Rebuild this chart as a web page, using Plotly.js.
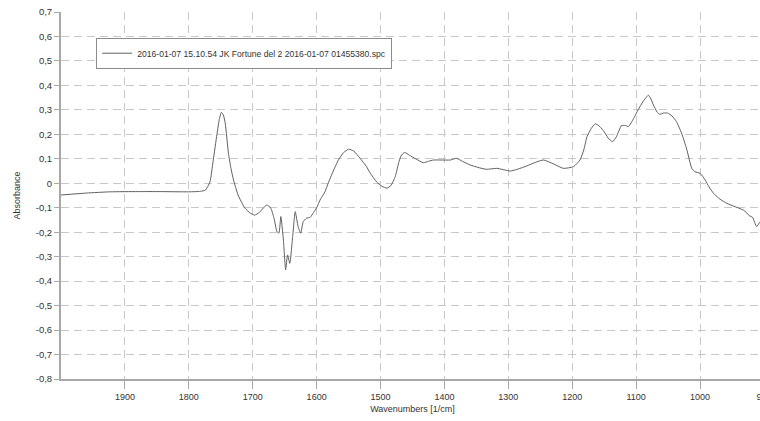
<!DOCTYPE html>
<html>
<head>
<meta charset="utf-8">
<script src="https://cdn.plot.ly/plotly-3.0.1.min.js"></script>
<style>
html,body{margin:0;padding:0;overflow:hidden;background:#fff;}
#chart{width:766px;height:421px;}
</style>
</head>
<body>
<div id="chart"></div>
<script>
const seriesName = "2016-01-07 15.10.54 JK Fortune del 2 2016-01-07 01455380.spc";

const wavenumbers = [
  2000, 1960, 1923, 1880, 1845, 1800, 1782, 1774, 1767, 1762, 1756, 1752, 1749, 1746, 1743, 1738, 1734, 1730,
  1723, 1716, 1712, 1704, 1697, 1690, 1683, 1678, 1672, 1667, 1662, 1659, 1656, 1652, 1648.5, 1645.5, 1642,
  1637.5, 1633.5, 1629, 1625, 1621, 1616, 1610, 1605, 1600, 1594, 1587, 1582, 1574, 1566, 1558, 1550, 1542,
  1532, 1522, 1516, 1506, 1498, 1490, 1484, 1477, 1471, 1467, 1462, 1455, 1445, 1433, 1425, 1417, 1405, 1391,
  1381, 1372, 1360, 1345, 1334, 1318, 1297, 1285, 1271, 1258, 1245, 1230, 1214, 1198, 1188, 1182, 1177, 1170,
  1164, 1157, 1150, 1144, 1137, 1131, 1123, 1117, 1112, 1104, 1097, 1089, 1081, 1077, 1073, 1067, 1063, 1057,
  1051, 1044, 1037, 1029, 1021, 1013, 1008, 1000, 992, 986, 979, 969, 958, 948, 932, 922, 918, 911.5, 906, 901
];

const absorbance = [
  -0.048, -0.040, -0.035, -0.034, -0.034, -0.035, -0.033, -0.028, 0.005, 0.09, 0.2, 0.265, 0.29, 0.28, 0.245, 0.123, 0.06, 0.013,
  -0.048, -0.085, -0.102, -0.122, -0.13, -0.12, -0.1, -0.089, -0.1, -0.14, -0.198, -0.204, -0.136, -0.232, -0.354, -0.293, -0.327,
  -0.218, -0.116, -0.177, -0.204, -0.157, -0.143, -0.139, -0.12, -0.1, -0.065, -0.035, 0, 0.05, 0.095, 0.125, 0.139, 0.132,
  0.102, 0.068, 0.041, 0.005, -0.012, -0.02, -0.01, 0.027, 0.09, 0.116, 0.126, 0.115, 0.1, 0.084, 0.09, 0.095, 0.095, 0.095,
  0.102, 0.09, 0.075, 0.063, 0.057, 0.061, 0.05, 0.058, 0.071, 0.085, 0.095, 0.08, 0.061, 0.068, 0.095, 0.136, 0.19, 0.225,
  0.243, 0.232, 0.21, 0.185, 0.17, 0.19, 0.236, 0.236, 0.232, 0.265, 0.3, 0.335, 0.36, 0.345, 0.32, 0.29, 0.282, 0.287,
  0.287, 0.275, 0.252, 0.205, 0.14, 0.061, 0.047, 0.041, 0.013, -0.015, -0.041, -0.065, -0.082, -0.093, -0.11, -0.134, -0.139, -0.177, -0.157, -0.15
];

const xTickVals = [1900, 1800, 1700, 1600, 1500, 1400, 1300, 1200, 1100, 1000, 900];
const xTickText = ["1900", "1800", "1700", "1600", "1500", "1400", "1300", "1200", "1100", "1000", "900"];
const yTickVals = [0.7, 0.6, 0.5, 0.4, 0.3, 0.2, 0.1, 0, -0.1, -0.2, -0.3, -0.4, -0.5, -0.6, -0.7, -0.8];
const yTickText = ["0,7", "0,6", "0,5", "0,4", "0,3", "0,2", "0,1", "0", "-0,1", "-0,2", "-0,3", "-0,4", "-0,5", "-0,6", "-0,7", "-0,8"];

const fontFam = "Liberation Sans, Arial, sans-serif";

const trace = {
  x: wavenumbers,
  y: absorbance,
  type: "scatter",
  mode: "lines",
  name: seriesName,
  line: {color: "#606060", width: 1, shape: "spline", smoothing: 0.5},
  hoverinfo: "skip"
};

const layout = {
  width: 766,
  height: 421,
  margin: {l: 61, r: 2, t: 12, b: 42},
  paper_bgcolor: "#ffffff",
  plot_bgcolor: "#ffffff",
  font: {family: fontFam, size: 9, color: "#333333"},
  showlegend: true,
  legend: {
    x: 0.05, y: 0.93, xanchor: "left", yanchor: "top",
    bgcolor: "#ffffff", bordercolor: "#8c8c8c", borderwidth: 1,
    font: {family: fontFam, size: 8.6, color: "#333333"},
    itemwidth: 30
  },
  xaxis: {
    range: [2000, 900],
    tickvals: xTickVals,
    ticktext: xTickText,
    ticklabeloverflow: "allow",
    showline: true, linecolor: "#a8a8a8", linewidth: 2,
    ticks: "outside", ticklen: 8, tickcolor: "#a8a8a8", tickwidth: 1,
    showgrid: true, gridcolor: "#c8c8c8", gridwidth: 1, griddash: "8px,5px",
    zeroline: false,
    tickfont: {family: fontFam, size: 9, color: "#333333"},
    title: {text: "Wavenumbers [1/cm]", font: {family: fontFam, size: 9, color: "#333333"}, standoff: 5},
    automargin: false,
    fixedrange: true
  },
  yaxis: {
    range: [-0.8, 0.7],
    tickvals: yTickVals,
    ticktext: yTickText,
    showline: true, linecolor: "#a8a8a8", linewidth: 2,
    ticks: "outside", ticklen: 5, tickcolor: "#a8a8a8", tickwidth: 1,
    showgrid: true, gridcolor: "#c8c8c8", gridwidth: 1, griddash: "8px,5px",
    zeroline: false,
    tickfont: {family: fontFam, size: 9.5, color: "#333333"},
    title: {text: "Absorbance", font: {family: fontFam, size: 9, color: "#333333"}, standoff: 14},
    automargin: false,
    fixedrange: true
  }
};

Plotly.newPlot("chart", [trace], layout, {displayModeBar: false, staticPlot: true});
</script>
</body>
</html>
